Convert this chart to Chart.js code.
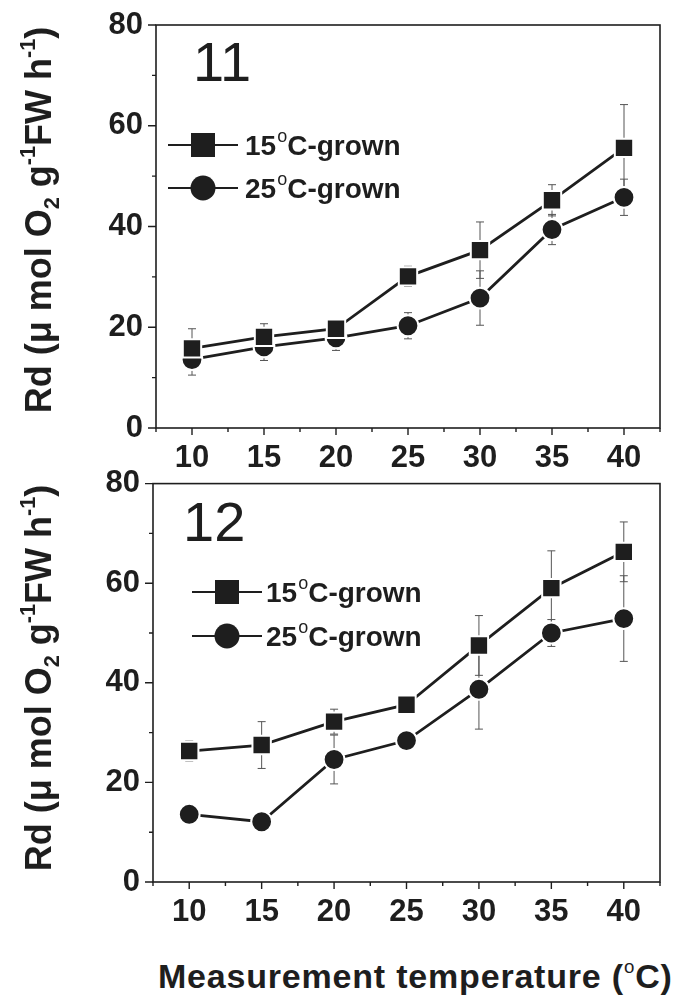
<!DOCTYPE html>
<html>
<head>
<meta charset="utf-8">
<script src="https://cdn.jsdelivr.net/npm/chart.js@4.4.1/dist/chart.umd.min.js"></script>
<style>
body { margin: 0; background: #fff; }
#wrap { position: relative; width: 675px; height: 996px; overflow: hidden; font-family: "Liberation Sans", Arial, sans-serif; color: #1e1e1e; }
.box { position: absolute; left: 0; width: 675px; height: 470px; }
.ytitle { position: absolute; font-weight: bold; font-size: 36px; line-height: 36px; white-space: nowrap; transform: translate(-50%, -50%) rotate(-90deg); }
.sub { font-size: 0.6em; position: relative; top: 0.35em; }
.sup { font-size: 0.6em; position: relative; top: -0.75em; }
.panel { position: absolute; font-size: 56px; line-height: 1; }
#xtitle { position: absolute; left: 158px; top: 959px; font-weight: bold; font-size: 34px; letter-spacing: 0.8px; line-height: 1; white-space: nowrap; }
#xtitle .sup { font-size: 0.55em; font-weight: normal; top: -0.8em; }
</style>
</head>
<body>
<div id="wrap">
  <div class="box" style="top:0"><canvas id="chart11" width="675" height="470"></canvas></div>
  <div class="box" style="top:460px"><canvas id="chart12" width="675" height="470"></canvas></div>
  <div class="panel" style="left:193px; top:34px">11</div>
  <div class="panel" style="left:183px; top:494px">12</div>
  <div class="ytitle" style="left:41px; top:220px">Rd (μ mol O<span class="sub">2</span> g<span class="sup">-1</span>FW h<span class="sup">-1</span>)</div>
  <div class="ytitle" style="left:41px; top:678px">Rd (μ mol O<span class="sub">2</span> g<span class="sup">-1</span>FW h<span class="sup">-1</span>)</div>
  <div id="xtitle">Measurement temperature (<span class="sup">o</span>C)</div>
</div>
<script>
const temps = [10, 15, 20, 25, 30, 35, 40];
const xTickLabels = [10, 15, 20, 25, 30, 35, 40];
const yTickLabels = [0, 20, 40, 60, 80];
const seriesNames = ["15", "25"];

// panel 11
const rd15_11 = [15.8, 18.1, 19.7, 30.1, 35.3, 45.2, 55.6];
const err15_11 = [3.9, 2.6, 1.0, 2.0, 5.6, 3.1, 8.6];
const rd25_11 = [13.6, 16.1, 17.9, 20.3, 25.8, 39.4, 45.8];
const err25_11 = [3.1, 2.7, 2.5, 2.6, 5.4, 3.0, 3.6];

// panel 12
const rd15_12 = [26.3, 27.5, 32.2, 35.6, 47.5, 59.0, 66.3];
const err15_12 = [2.0, 4.7, 2.5, 1.0, 6.0, 7.5, 6.0];
const rd25_12 = [13.6, 12.1, 24.6, 28.4, 38.7, 50.0, 52.9];
const err25_12 = [1.0, 1.0, 4.9, 1.5, 8.0, 2.7, 8.6];

const ink = "#1e1e1e";
const fontFam = '"Liberation Sans", Arial, sans-serif';

const frameTicks = {
  id: "frameTicks",
  afterDraw(chart) {
    const ctx = chart.ctx;
    const a = chart.chartArea;
    const xs = chart.scales.x, ys = chart.scales.y;
    ctx.save();
    ctx.strokeStyle = ink;
    ctx.lineWidth = 1.6;
    ctx.strokeRect(a.left, a.top, a.right - a.left, a.bottom - a.top);
    ctx.lineWidth = 1.4;
    ctx.beginPath();
    xs.ticks.forEach(t => {
      const px = xs.getPixelForValue(t.value);
      const len = xTickLabels.includes(t.value) ? 7 : 4;
      ctx.moveTo(px, a.bottom);
      ctx.lineTo(px, a.bottom + len);
    });
    ys.ticks.forEach(t => {
      const py = ys.getPixelForValue(t.value);
      const len = yTickLabels.includes(t.value) ? 8 : 4;
      ctx.moveTo(a.left, py);
      ctx.lineTo(a.left - len, py);
    });
    ctx.stroke();
    ctx.restore();
  }
};

const errorBars = {
  id: "errorBars",
  beforeDatasetsDraw(chart) {
    const ctx = chart.ctx;
    const xs = chart.scales.x, ys = chart.scales.y;
    ctx.save();
    ctx.strokeStyle = "#555";
    ctx.lineWidth = 1;
    chart.data.datasets.forEach(ds => {
      ds.data.forEach((p, j) => {
        const e = ds.errors[j];
        const x = xs.getPixelForValue(p.x);
        const y1 = ys.getPixelForValue(p.y + e);
        const y2 = ys.getPixelForValue(p.y - e);
        ctx.beginPath();
        ctx.moveTo(x, y1); ctx.lineTo(x, y2);
        ctx.moveTo(x - 4, y1); ctx.lineTo(x + 4, y1);
        ctx.moveTo(x - 4, y2); ctx.lineTo(x + 4, y2);
        ctx.stroke();
      });
    });
    ctx.restore();
  }
};

const panelLegend = {
  id: "panelLegend",
  afterDraw(chart, args, opts) {
    const ctx = chart.ctx;
    ctx.save();
    opts.rows.forEach((row, i) => {
      const y = opts.y[i];
      ctx.strokeStyle = ink;
      ctx.lineWidth = 2;
      ctx.beginPath();
      ctx.moveTo(opts.x1, y);
      ctx.lineTo(opts.x2, y);
      ctx.stroke();
      ctx.fillStyle = ink;
      const mx = (opts.x1 + opts.x2) / 2;
      Chart.helpers.drawPoint(ctx, { pointStyle: row.style, radius: row.style === "rect" ? 17 : 12.5, rotation: 0, borderWidth: 0 }, mx, y);
      // text with raised small o
      let tx = opts.tx;
      const base = y + 10;
      ctx.textBaseline = "alphabetic";
      ctx.font = "bold 28px " + fontFam;
      ctx.fillText(row.name, tx, base);
      tx += ctx.measureText(row.name).width + 1;
      ctx.font = "18px " + fontFam;
      ctx.fillText("o", tx, base - 13);
      tx += ctx.measureText("o").width;
      ctx.font = "bold 28px " + fontFam;
      ctx.fillText("C-grown", tx, base);
    });
    ctx.restore();
  }
};

function makePanel(id, s15, e15, s25, e25, pad, yWidth, xHeight, legendOpts) {
  const mk = (vals, errs, style, r) => ({
    data: temps.map((t, i) => ({ x: t, y: vals[i] })),
    errors: errs,
    borderColor: ink,
    borderWidth: 2.8,
    pointStyle: style,
    pointRadius: r,
    pointHoverRadius: r,
    pointBackgroundColor: ink,
    pointBorderColor: "#fff",
    pointBorderWidth: 2,
    tension: 0
  });
  return new Chart(document.getElementById(id), {
    type: "line",
    data: {
      datasets: [
        mk(s15, e15, "rect", 13),
        mk(s25, e25, "circle", 10.4)
      ]
    },
    options: {
      responsive: false,
      animation: false,
      events: [],
      layout: { padding: pad },
      plugins: {
        legend: { display: false },
        tooltip: { enabled: false },
        panelLegend: legendOpts
      },
      scales: {
        x: {
          type: "linear",
          min: 7.5,
          max: 42.5,
          afterFit: s => { s.height = xHeight; },
          afterBuildTicks: s => {
            s.ticks = [];
            for (let v = 7.5; v <= 42.5; v += 2.5) s.ticks.push({ value: v });
          },
          border: { display: false },
          grid: { display: true, drawOnChartArea: false, drawTicks: true, tickLength: 7, tickColor: "rgba(0,0,0,0)" },
          ticks: {
            autoSkip: false,
            maxRotation: 0,
            padding: 5,
            color: ink,
            font: { family: fontFam, size: 31, weight: "bold" },
            callback: v => xTickLabels.includes(v) ? String(v) : ""
          }
        },
        y: {
          min: 0,
          max: 80,
          afterFit: s => { s.width = yWidth; },
          afterBuildTicks: s => {
            s.ticks = [];
            for (let v = 0; v <= 80; v += 10) s.ticks.push({ value: v });
          },
          border: { display: false },
          grid: { display: true, drawOnChartArea: false, drawTicks: true, tickLength: 8, tickColor: "rgba(0,0,0,0)" },
          ticks: {
            autoSkip: false,
            padding: 5,
            color: ink,
            font: { family: fontFam, size: 31, weight: "bold" },
            callback: v => yTickLabels.includes(v) ? String(v) : ""
          }
        }
      }
    },
    plugins: [errorBars, frameTicks, panelLegend]
  });
}

const legendRows = seriesNames.map((n, i) => ({ name: n, style: i === 0 ? "rect" : "circle" }));

makePanel("chart11", rd15_11, err15_11, rd25_11, err25_11,
  { top: 25, right: 7, left: 0, bottom: 0 }, 156, 42,
  { rows: legendRows, x1: 168, x2: 238, y: [145, 188], tx: 245 });

makePanel("chart12", rd15_12, err15_12, rd25_12, err25_12,
  { top: 20, right: 7, left: 0, bottom: 0 }, 153, 48,
  { rows: legendRows, x1: 192, x2: 262, y: [132, 176], tx: 266 });
</script>
</body>
</html>
